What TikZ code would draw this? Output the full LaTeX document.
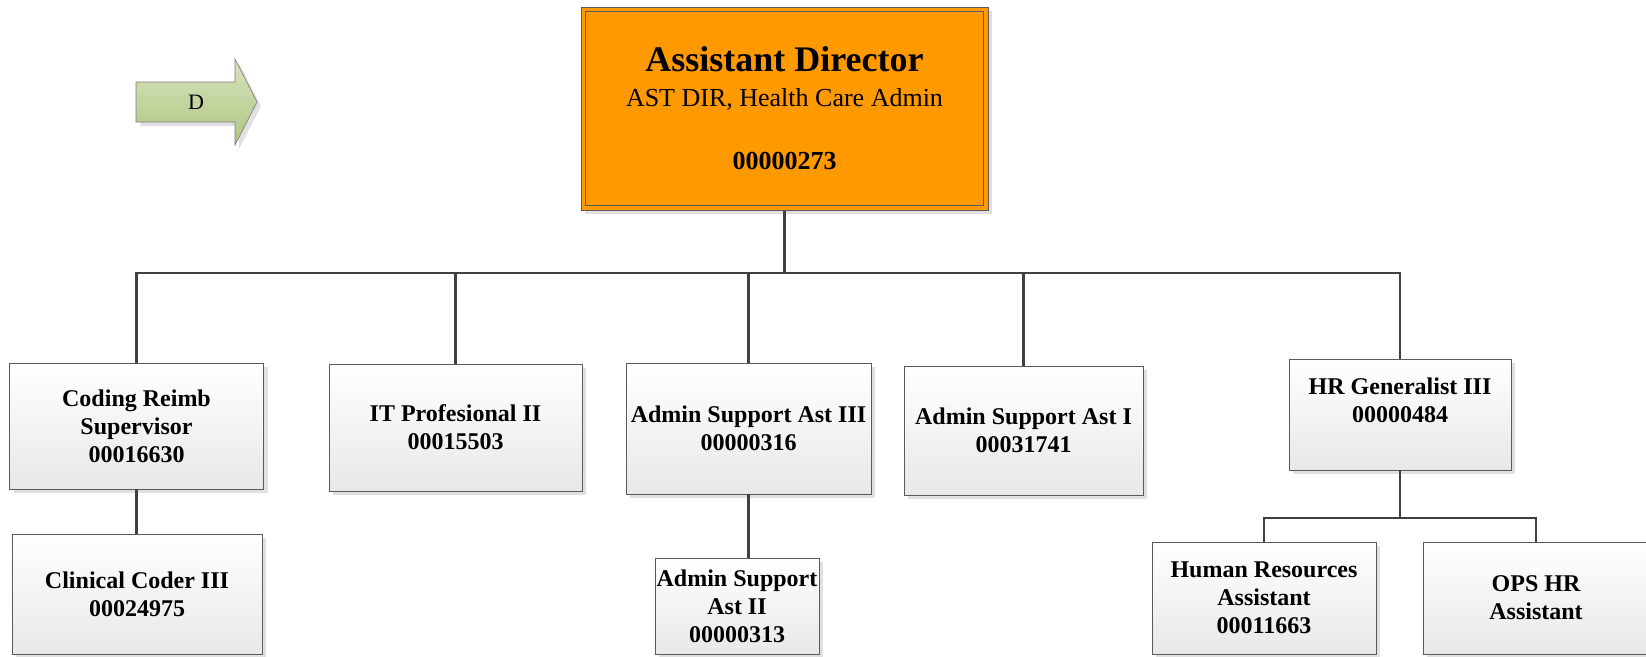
\documentclass[tikz,border=0pt]{standalone}
\usepackage{fontspec}
\setmainfont{Liberation Serif}
\usetikzlibrary{shadows}
\definecolor{dirorange}{HTML}{FF9900}
\definecolor{linegray}{HTML}{404040}
\definecolor{boxgray}{HTML}{5A5A5A}
\definecolor{arrowtop}{HTML}{D8E4BE}
\definecolor{arrowbot}{HTML}{AFC47F}
\edef\busy{273}
\edef\hrbusy{518}

\begin{document}
\begin{tikzpicture}[x=1pt,y=-1pt,
  post/.style={draw=boxgray, line width=0.8pt, top color=white, bottom color=black!9,
    drop shadow={shadow xshift=4pt, shadow yshift=-4pt, fill=black!12, opacity=1},
    align=center, inner sep=0pt,
    font=\fontsize{24}{28}\selectfont\bfseries},
  head/.style={draw=boxgray, line width=1pt, fill=dirorange,
    drop shadow={shadow xshift=4pt, shadow yshift=-4pt, fill=black!12, opacity=1},
    align=center, inner sep=0pt, font=\fontsize{26}{35}\selectfont},
  link/.style={draw=linegray, line width=2.2pt}]
  \useasboundingbox (0,0) rectangle (1646,656);

  % the direction arrow
  \fill[black!12] (140,86) -- (239,86) -- (239,63) -- (261,106) -- (239,149)
    -- (239,126) -- (140,126) -- cycle;
  \shade[top color=arrowtop, bottom color=arrowbot, draw=boxgray!80, line width=0.6pt]
    (136,82) -- (235,82) -- (235,59) -- (257,102) -- (235,145) -- (235,122)
    -- (136,122) -- cycle;
  \node (dtag) at (196,102) {\fontsize{22}{22}\selectfont D};

  % the director
  \node[head, minimum width=407pt, minimum height=203pt] (dir) at (784.5,108.5)
    {{\fontsize{36}{35}\selectfont\bfseries Assistant Director}\\
     AST DIR, Health Care Admin\\[28pt]
     \textbf{00000273}};
  \draw[boxgray, line width=1pt] ([xshift=5pt,yshift=-5pt]dir.north west)
    rectangle ([xshift=-5pt,yshift=5pt]dir.south east);

  % first row
  \node[post, minimum width=254pt, minimum height=126pt] (crs) at (136.5,426)
    {Coding Reimb\\Supervisor\\00016630};
  \node[post, minimum width=253pt, minimum height=127pt] (itp) at (455.5,427.5)
    {IT Profesional II\\00015503};
  \node[post, minimum width=245pt, minimum height=131pt] (asa3) at (748.5,428.5)
    {Admin Support Ast III\\00000316};
  \node[post, minimum width=239pt, minimum height=129pt] (asa1) at (1023.5,430.5)
    {Admin Support Ast I\\00031741};
  \node[post, minimum width=222pt, minimum height=111pt] (hrg) at (1400,414.5)
    {HR Generalist III\\00000484\\\mbox{}};

  % second row
  \node[post, minimum width=250pt, minimum height=120pt] (cc3) at (137,594)
    {Clinical Coder III\\00024975};
  \node[post, minimum width=164pt, minimum height=96pt] (asa2) at (737,606)
    {Admin Support\\Ast II\\00000313};
  \node[post, minimum width=224pt, minimum height=112pt] (hra) at (1264,598)
    {Human Resources\\Assistant\\00011663};
  \node[post, minimum width=226pt, minimum height=112pt] (opshr) at (1536,598)
    {OPS HR\\Assistant};

  % connectors
  \coordinate (bus) at (dir.south |- 0,\busy);
  \draw[link] (dir.south) -- (bus);
  \draw[link] (crs.north) |- (bus) -| (hrg.north);
  \foreach \n in {itp,asa3,asa1}
    \draw[link] (\n.north) -- (\n.north |- bus);
  \draw[link] (crs.south) -- (crs.south |- cc3.north);
  \draw[link] (asa3.south) -- (asa3.south |- asa2.north);
  \coordinate (hrbus) at (hrg.south |- 0,\hrbusy);
  \draw[link] (hrg.south) -- (hrbus);
  \draw[link] (hra.north) |- (hrbus) -| (opshr.north);
\end{tikzpicture}
\end{document}
